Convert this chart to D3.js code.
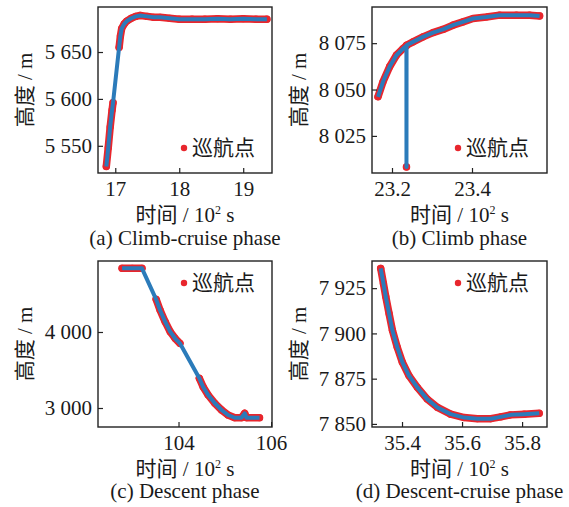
<!DOCTYPE html>
<html>
<head>
<meta charset="utf-8">
<script src="https://cdn.jsdelivr.net/npm/d3@7"></script>
<style>
  body { margin: 0; background: #fff; }
  svg text { font-family: "Liberation Serif", "Noto Sans CJK SC", serif; fill: #1a1a1a; }
</style>
</head>
<body>
<svg id="fig" width="569" height="507"></svg>
<script>
// Altitude tracks [time (10^2 s), altitude (m)], grouped into runs of recorded cruise points.
// The blue trajectory joins all runs; the red band marks the cruise points themselves.
const climbCruiseRuns = [
  [[16.86, 5528], [16.89, 5548], [16.92, 5570], [16.95, 5588], [16.965, 5596]],
  [[17.06, 5655], [17.08, 5667], [17.10, 5675], [17.14, 5680], [17.18, 5683], [17.25, 5686],
   [17.32, 5688], [17.39, 5689], [17.50, 5688], [17.60, 5687], [17.70, 5687], [17.85, 5686],
   [18.00, 5685], [18.20, 5685], [18.40, 5685], [18.60, 5685.5], [18.80, 5685], [19.00, 5685.5],
   [19.20, 5685], [19.37, 5685]]
];
const climbRuns = [
  [[23.165, 8046.1], [23.1775, 8054.2], [23.194, 8062.3], [23.211, 8068.5], [23.2275, 8072.1],
   [23.236, 8073.6]],
  [[23.2362, 8008.3]],
  [[23.2364, 8073.9], [23.2525, 8075.7], [23.2775, 8078.4], [23.3025, 8080.7], [23.3275, 8082.4],
   [23.3525, 8084.7], [23.3775, 8086.5], [23.4025, 8088.3], [23.436, 8089.1], [23.469, 8090.1],
   [23.511, 8090.1], [23.544, 8090.1], [23.569, 8089.7]]
];
const descentRuns = [
  [[102.78, 4838], [103.00, 4838], [103.21, 4838]],
  [[103.516, 4430], [103.60, 4289], [103.71, 4136], [103.82, 4004], [103.925, 3917], [104.03, 3851]],
  [[104.45, 3391], [104.53, 3280], [104.64, 3171], [104.785, 3062], [104.93, 2974], [105.07, 2908],
   [105.215, 2872], [105.36, 2872], [105.43, 2930], [105.47, 2872], [105.75, 2872]]
];
const descentCruiseRuns = [
  [[35.329, 7935.9], [35.338, 7927.6], [35.346, 7920.2], [35.357, 7910.9], [35.368, 7901.7],
   [35.384, 7892.4], [35.401, 7884.1], [35.423, 7876.7], [35.451, 7870.2], [35.484, 7863.7],
   [35.518, 7859.1], [35.562, 7855.4], [35.607, 7853.5], [35.651, 7852.9], [35.696, 7852.9],
   [35.729, 7853.9], [35.762, 7855.0], [35.807, 7855.4], [35.857, 7855.9]]
];

// Tick values
const climbCruiseXTicks = [17, 18, 19];
const climbCruiseYTicks = [5550, 5600, 5650];
const climbXTicks = [23.2, 23.4];
const climbYTicks = [8025, 8050, 8075];
const descentXTicks = [104, 106];
const descentYTicks = [3000, 4000];
const descentCruiseXTicks = [35.4, 35.6, 35.8];
const descentCruiseYTicks = [7850, 7875, 7900, 7925];

const captions = ["(a) Climb-cruise phase", "(b) Climb phase", "(c) Descent phase", "(d) Descent-cruise phase"];
const legendLabel = "巡航点";
const yTitle = "高度 / m";

const BLUE = "#2b7bba", RED = "#e8262d", INK = "#222";
const FS = 21;

const grouped = d3.formatLocale({ decimal: ".", thousands: " ", grouping: [3], currency: ["", ""] }).format(",");
const oneDec = d3.format(".1f");

const panels = [
  { runs: climbCruiseRuns, xDomain: [16.73, 19.45], yDomain: [5521, 5698],
    xTicks: climbCruiseXTicks, yTicks: climbCruiseYTicks, xFmt: d3.format("d"),
    box: [98, 7, 272, 173], legend: "bottom" },
  { runs: climbRuns, xDomain: [23.15, 23.5875], yDomain: [8005, 8094.5],
    xTicks: climbXTicks, yTicks: climbYTicks, xFmt: oneDec,
    box: [372, 7, 547, 173], legend: "bottom" },
  { runs: descentRuns, xDomain: [102.26, 106.02], yDomain: [2750, 4934],
    xTicks: descentXTicks, yTicks: descentYTicks, xFmt: d3.format("d"),
    box: [98, 261, 272, 427], legend: "top" },
  { runs: descentCruiseRuns, xDomain: [35.3, 35.883], yDomain: [7848.3, 7940],
    xTicks: descentCruiseXTicks, yTicks: descentCruiseYTicks, xFmt: oneDec,
    box: [372, 261, 547, 427], legend: "top" }
];

const svg = d3.select("#fig");

panels.forEach((p, i) => {
  const [x0, y0, x1, y1] = p.box;
  const x = d3.scaleLinear().domain(p.xDomain).range([x0, x1]);
  const y = d3.scaleLinear().domain(p.yDomain).range([y1, y0]);
  const g = svg.append("g");

  const line = d3.line().x(d => x(d[0])).y(d => y(d[1]));

  // cruise points: dense red band under the trajectory
  p.runs.forEach(run => {
    g.append("path").attr("d", line(run)).attr("fill", "none")
      .attr("stroke", RED).attr("stroke-width", 7.5)
      .attr("stroke-linecap", "round").attr("stroke-linejoin", "round");
    g.selectAll(null).data(run).join("circle")
      .attr("cx", d => x(d[0])).attr("cy", d => y(d[1])).attr("r", 3.6).attr("fill", RED);
  });

  // trajectory
  g.append("path").attr("d", line(p.runs.flat())).attr("fill", "none")
    .attr("stroke", BLUE).attr("stroke-width", 4)
    .attr("stroke-linejoin", "round").attr("stroke-linecap", "butt");

  // axes with inward ticks
  const xa = g.append("g").attr("transform", `translate(0,${y1})`)
    .call(d3.axisBottom(x).tickValues(p.xTicks).tickFormat(p.xFmt).tickSize(-5).tickSizeOuter(0).tickPadding(8));
  const ya = g.append("g").attr("transform", `translate(${x0},0)`)
    .call(d3.axisLeft(y).tickValues(p.yTicks).tickFormat(grouped).tickSize(-5).tickSizeOuter(0).tickPadding(6));
  [xa, ya].forEach(a => {
    a.select(".domain").remove();
    a.selectAll(".tick line").attr("stroke", INK).attr("stroke-width", 1.2);
    a.selectAll(".tick text").attr("font-size", FS).attr("fill", "#1a1a1a");
  });

  // frame
  g.append("rect").attr("x", x0).attr("y", y0).attr("width", x1 - x0).attr("height", y1 - y0)
    .attr("fill", "none").attr("stroke", INK).attr("stroke-width", 1.4);

  // legend
  const ly = p.legend === "bottom" ? y0 + 141 : y0 + 22;
  const lx = x0 + 86;
  g.append("circle").attr("cx", lx).attr("cy", ly).attr("r", 3.2).attr("fill", RED);
  g.append("text").attr("x", lx + 8).attr("y", ly + 7).attr("font-size", FS).text(legendLabel);

  // y title
  const cx = x0 - 73, cy = (y0 + y1) / 2;
  g.append("text").attr("transform", `translate(${cx},${cy}) rotate(-90)`)
    .attr("text-anchor", "middle").attr("dy", "0.35em").attr("font-size", FS).text(yTitle);

  // x title with superscript
  const mx = (x0 + x1) / 2;
  const xt = g.append("text").attr("x", mx).attr("y", y1 + 49).attr("text-anchor", "middle").attr("font-size", FS);
  xt.append("tspan").text("时间 / 10");
  xt.append("tspan").attr("dy", -8).attr("font-size", 12).text("2");
  xt.append("tspan").attr("dy", 8).text(" s");

  // caption
  g.append("text").attr("x", mx).attr("y", y1 + (i < 2 ? 72 : 71)).attr("text-anchor", "middle")
    .attr("font-size", FS).text(captions[i]);
});
</script>
</body>
</html>
